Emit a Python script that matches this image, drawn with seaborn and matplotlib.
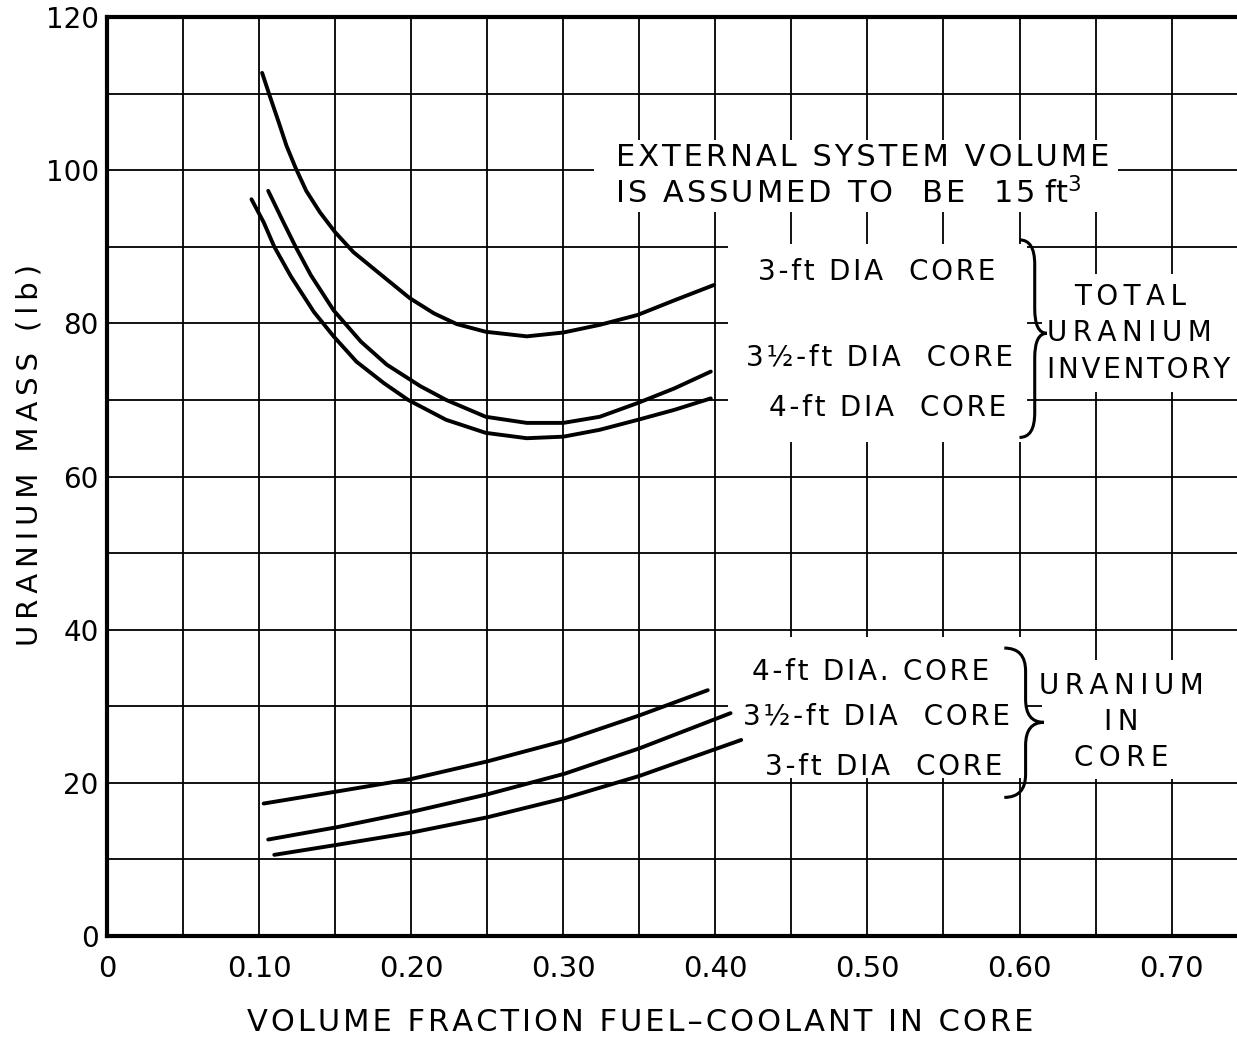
import numpy as np
import pandas as pd
import matplotlib
matplotlib.use("Agg")
import matplotlib.pyplot as plt
import seaborn as sns
from matplotlib.path import Path
from matplotlib.patches import PathPatch, Rectangle
from matplotlib.ticker import MultipleLocator, FixedLocator

# ---------------- data ----------------
# Total uranium inventory
tot_3ft_x = [0.102, 0.107, 0.113, 0.118, 0.124, 0.131, 0.140, 0.150, 0.162, 0.178, 0.199, 0.215,
             0.230, 0.249, 0.276, 0.300, 0.324, 0.349, 0.373, 0.399]
tot_3ft_y = [112.7, 109.7, 106.2, 103.2, 100.3, 97.3, 94.5, 91.9, 89.3, 86.7, 83.3, 81.3,
             79.9, 78.9, 78.3, 78.8, 79.8, 81.1, 83.0, 85.0]

tot_35ft_x = [0.106, 0.116, 0.124, 0.134, 0.149, 0.167, 0.184, 0.206, 0.223, 0.249, 0.276,
              0.300, 0.324, 0.349, 0.373, 0.397]
tot_35ft_y = [97.3, 93.2, 90.0, 86.3, 81.7, 77.6, 74.6, 71.8, 70.0, 67.8, 67.0,
              67.0, 67.8, 69.6, 71.5, 73.7]

tot_4ft_x = [0.095, 0.103, 0.110, 0.121, 0.136, 0.149, 0.164, 0.182, 0.198, 0.223, 0.249,
             0.276, 0.300, 0.324, 0.349, 0.373, 0.397]
tot_4ft_y = [96.2, 93.2, 90.0, 86.1, 81.5, 78.3, 75.0, 72.2, 70.0, 67.4, 65.7,
             65.0, 65.2, 66.1, 67.4, 68.7, 70.2]

# Uranium in core
core_4ft_x = [0.103, 0.152, 0.200, 0.250, 0.301, 0.350, 0.395]
core_4ft_y = [17.3, 18.9, 20.5, 22.8, 25.5, 28.8, 32.1]

core_35ft_x = [0.106, 0.151, 0.200, 0.250, 0.301, 0.350, 0.410]
core_35ft_y = [12.6, 14.2, 16.2, 18.5, 21.2, 24.5, 29.1]

core_3ft_x = [0.110, 0.151, 0.200, 0.250, 0.301, 0.350, 0.417]
core_3ft_y = [10.6, 11.9, 13.5, 15.5, 18.0, 20.9, 25.6]

x_ticks = [0.0, 0.10, 0.20, 0.30, 0.40, 0.50, 0.60, 0.70]
x_tick_labels = ["0", "0.10", "0.20", "0.30", "0.40", "0.50", "0.60", "0.70"]
y_ticks = [0, 20, 40, 60, 80, 100, 120]
y_tick_labels = ["0", "20", "40", "60", "80", "100", "120"]

series = [
    ("total 3-ft", tot_3ft_x, tot_3ft_y),
    ("total 3.5-ft", tot_35ft_x, tot_35ft_y),
    ("total 4-ft", tot_4ft_x, tot_4ft_y),
    ("core 4-ft", core_4ft_x, core_4ft_y),
    ("core 3.5-ft", core_35ft_x, core_35ft_y),
    ("core 3-ft", core_3ft_x, core_3ft_y),
]
df = pd.concat(
    [pd.DataFrame({"curve": n, "x": xs, "y": ys}) for n, xs, ys in series],
    ignore_index=True,
)

# ---------------- style ----------------
sns.set_theme(style="white")
plt.rcParams["font.family"] = ["DejaVu Sans"]
plt.rcParams["text.color"] = "black"

HAIR = "\u200a"
THIN = "\u2009"


def spaced(s, sp=HAIR):
    return sp.join(list(s))


fig = plt.figure(figsize=(12.37, 10.42), dpi=100)
ax = fig.add_axes([0.0865, 0.1017, 0.9135, 0.882])

for name, g in df.groupby("curve", sort=False):
    sns.lineplot(data=g, x="x", y="y", ax=ax, color="black", linewidth=2.8,
                 sort=False, estimator=None, legend=False, zorder=4)

ax.set_xlim(0, 0.743)
ax.set_ylim(0, 120)
ax.xaxis.set_major_locator(FixedLocator(x_ticks))
ax.set_xticklabels(x_tick_labels)
ax.xaxis.set_minor_locator(MultipleLocator(0.05))
ax.yaxis.set_major_locator(FixedLocator(y_ticks))
ax.set_yticklabels(y_tick_labels)
ax.yaxis.set_minor_locator(MultipleLocator(10))
ax.grid(True, which="both", color="black", linewidth=1.3)
ax.set_axisbelow(True)

for s in ["left", "bottom", "top"]:
    ax.spines[s].set_linewidth(3.0)
    ax.spines[s].set_color("black")
ax.spines["right"].set_visible(False)

ax.tick_params(axis="both", which="both", length=0, colors="black")
ax.tick_params(axis="x", labelsize=21, pad=14)
ax.tick_params(axis="y", labelsize=20, pad=6)

ax.set_xlabel(spaced("VOLUME FRACTION FUEL\u2013COOLANT IN CORE"), fontsize=22, color="black")
ax.xaxis.set_label_coords(0.472, -0.078)
ax.set_ylabel(spaced("URANIUM MASS (lb)", THIN), fontsize=21, color="black")
ax.yaxis.set_label_coords(-0.056, 0.523)

# ---------------- white cut-outs in the grid (hand-drawn original) ----------------
def blank(x0, x1, y0, y1):
    ax.add_patch(Rectangle((x0, y0), x1 - x0, y1 - y0, facecolor="white",
                           edgecolor="none", zorder=2))

blank(0.320, 0.665, 94.5, 104.0)
blank(0.408, 0.605, 64.5, 90.3)
blank(0.408, 0.605, 20.6, 39.0)
blank(0.615, 0.743, 71.0, 86.5)
blank(0.615, 0.743, 20.5, 36.0)

# ---------------- braces ----------------
def brace(x0, xmid, xtip, ytop, ybot, ytip, c=3.0):
    verts = [(x0, ytop), (xmid, ytop), (xmid, ytop - c),
             (xmid, ytip + c), (xmid, ytip), (xtip, ytip),
             (xmid, ytip), (xmid, ytip - c),
             (xmid, ybot + c), (xmid, ybot), (x0, ybot)]
    codes = [Path.MOVETO, Path.CURVE3, Path.CURVE3,
             Path.LINETO, Path.CURVE3, Path.CURVE3,
             Path.CURVE3, Path.CURVE3,
             Path.LINETO, Path.CURVE3, Path.CURVE3]
    ax.add_patch(PathPatch(Path(verts, codes), facecolor="none",
                           edgecolor="black", linewidth=2.2, zorder=5))

brace(0.600, 0.610, 0.618, 90.9, 65.1, 78.7, c=3.2)
brace(0.590, 0.604, 0.616, 37.6, 18.1, 27.9, c=3.0)

# ---------------- annotations ----------------
tk = dict(color="black", zorder=6, ha="center", va="center")
ax.text(0.497, 101.6, spaced("EXTERNAL SYSTEM VOLUME"), fontsize=22, **tk)
ax.text(0.334, 97.0, spaced("IS ASSUMED TO  BE  15") + " ft$^3$", fontsize=22,
        color="black", zorder=6, ha="left", va="center")

ax.text(0.506, 86.7, spaced("3-ft DIA  CORE"), fontsize=20, **tk)
ax.text(0.508, 75.6, spaced("3\u00bd-ft DIA  CORE"), fontsize=20, **tk)
ax.text(0.513, 68.9, spaced("4-ft DIA  CORE"), fontsize=20, **tk)

ax.text(0.673, 83.4, spaced("TOTAL", THIN), fontsize=20, **tk)
ax.text(0.672, 78.7, spaced("URANIUM", THIN), fontsize=20, **tk)
ax.text(0.678, 73.9, spaced("INVENTORY", HAIR), fontsize=20, **tk)

ax.text(0.502, 34.5, spaced("4-ft DIA. CORE"), fontsize=20, **tk)
ax.text(0.506, 28.6, spaced("3\u00bd-ft DIA  CORE"), fontsize=20, **tk)
ax.text(0.511, 22.1, spaced("3-ft DIA  CORE"), fontsize=20, **tk)

ax.text(0.667, 32.6, spaced("URANIUM", THIN), fontsize=20, **tk)
ax.text(0.667, 27.9, spaced("IN", THIN), fontsize=20, **tk)
ax.text(0.667, 23.2, spaced("CORE", THIN), fontsize=20, **tk)

fig.savefig("out.png", dpi=100, facecolor="white")
